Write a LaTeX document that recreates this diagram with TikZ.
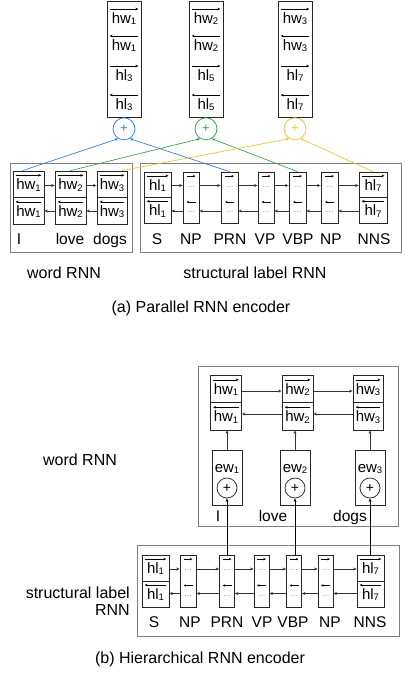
\documentclass[tikz,border=0pt]{standalone}
\usepackage{fontspec}
\setmainfont{Liberation Sans}
\usetikzlibrary{arrows.meta,calc}
\definecolor{cblue}{HTML}{3A80D6}
\definecolor{cgreen}{HTML}{3AA453}
\definecolor{cyellow}{HTML}{E8C63C}
\newcommand\sbs[1]{\raisebox{-1.5pt}{\fontsize{9.5}{9.5}\selectfont #1}}
% #1 cell, #2 name, #3 yoff, #4 text, #5 sub, #6 f/b
\newcommand\rowtxt[6]{%
  \node[ctext] (#2) at ($(#1.center)+(0,#3)$) {#4\sbs{#5}};
  \ifx f#6
    \draw[ov] ($(#1.west|-#2.north)+(3,-3.5)$) -- ($(#1.east|-#2.north)+(-3,-3.5)$);
  \else
    \draw[ov] ($(#1.east|-#2.north)+(-3,-3.5)$) -- ($(#1.west|-#2.north)+(3,-3.5)$);
  \fi}
% #1 name, #2 x, #3 y, #4 width, #5 height, #6 text, #7 sub, #8 quarter
\newcommand\twocell[8]{%
  \node[cellbox, minimum width=#4pt, minimum height=#5pt] (#1) at (#2,#3) {};
  \draw[cellbox] (#1.west) -- (#1.east);
  \rowtxt{#1}{#1t}{-#8}{#6}{#7}{f}
  \rowtxt{#1}{#1b}{#8}{#6}{#7}{b}}
% #1 name, #2 x, #3 y, #4 width, #5 height
\newcommand\dotcell[5]{%
  \node[cellbox, minimum width=#4pt, minimum height=#5pt] (#1) at (#2,#3) {};
  \draw[ovs] ($(#1.north)+(-4.5,4.5)$) -- ($(#1.north)+(4.5,4.5)$);
  \node[dotstxt] at ($(#1.north)+(0,15.5)$) {…};
  \draw[ovs] ($(#1.center)+(4.5,4.5)$) -- ($(#1.center)+(-4.5,4.5)$);
  \node[dotstxt] at ($(#1.center)+(0,15)$) {…};}
\begin{document}
\begin{tikzpicture}[x=1pt,y=-1pt,
  every node/.style={inner sep=0pt},
  cellbox/.style={draw=black!85, line width=0.75pt},
  outerbox/.style={draw=black!50, line width=1pt},
  ctext/.style={font=\fontsize{15}{15}\selectfont, text height=10.5pt, text depth=0pt, inner xsep=1pt},
  ov/.style={line width=0.55pt, -{Stealth[length=3pt,width=2.6pt]}},
  ovs/.style={line width=0.55pt, -{Stealth[length=2.6pt,width=2.4pt]}},
  linkarr/.style={draw=black!80, line width=0.7pt, -{Stealth[length=3.5pt,width=3pt]}},
  labtxt/.style={font=\fontsize{15.5}{15.5}\selectfont, anchor=base},
  captxt/.style={font=\fontsize{16}{16}\selectfont, anchor=base},
  dotstxt/.style={font=\fontsize{8}{8}\selectfont, text=black!45},
  cplus/.style={circle, draw, minimum size=22pt, line width=0.8pt, font=\fontsize{13}{13}\selectfont},
  bplus/.style={circle, draw=black!85, minimum size=20pt, line width=0.75pt, font=\fontsize{14}{14}\selectfont},
  conn/.style={line width=0.7pt, -{Stealth[length=3.5pt,width=3pt]}}
]
\useasboundingbox (0,0) rectangle (415,677);

% ================= (a) =================
\foreach \n/\x/\w/\l in {o1/124/1/3, o2/206/2/5, o3/295/3/7}{
  \node[cellbox, minimum width=34pt, minimum height=116pt] (\n) at (\x,59) {};
  \rowtxt{\n}{\n a}{-41}{hw}{\w}{f}
  \rowtxt{\n}{\n b}{-14}{hw}{\w}{b}
  \rowtxt{\n}{\n c}{16}{hl}{\l}{f}
  \rowtxt{\n}{\n d}{45}{hl}{\l}{b}
}
\node[cplus, draw=cblue, text=cblue, anchor=north] (c1) at (o1.south) {+};
\node[cplus, draw=cgreen, text=cgreen, anchor=north] (c2) at (o2.south) {+};
\node[cplus, draw=cyellow, text=cyellow, anchor=north] (c3) at (o3.south) {+};

\node[outerbox, minimum width=122pt, minimum height=89pt] (wboxa) at (71,207.5) {};
\node[outerbox, minimum width=261pt, minimum height=89pt] (sboxa) at (270.5,207.5) {};

\twocell{wa1}{28.5}{197.5}{31}{53}{hw}{1}{13.25}
\twocell{wa2}{70.5}{197.5}{31}{53}{hw}{2}{13.25}
\twocell{wa3}{112}{197.5}{30}{53}{hw}{3}{13.25}
\twocell{sa1}{157.5}{197.5}{27}{51}{hl}{1}{12.75}
\dotcell{sa2}{191}{197.5}{16}{51}
\dotcell{sa3}{229.5}{197.5}{17}{51}
\dotcell{sa4}{266}{197.5}{16}{51}
\dotcell{sa5}{297.5}{197.5}{17}{51}
\dotcell{sa6}{329.5}{197.5}{17}{51}
\twocell{sa7}{373}{197.5}{28}{51}{hl}{7}{12.75}

\foreach \a/\b in {wa1/wa2, wa2/wa3, sa1/sa2, sa2/sa3, sa3/sa4, sa4/sa5, sa5/sa6, sa6/sa7}{
  \draw[linkarr] ([yshift=12pt]\a.east) -- ([yshift=12pt]\b.west);
  \draw[linkarr] ([yshift=-13.5pt]\b.west) -- ([yshift=-13.5pt]\a.east);
}

\foreach \t/\x [count=\i] in {I/19, love/70, dogs/110, S/157, NP/191, PRN/230, VP/265, VBP/298, NP/331, NNS/374}{
  \node[labtxt] (la\i) at (\x,244) {\t};
}

\draw[conn, cblue] ($(wa1.north)+(-6,0)$) -- (c1.240);
\draw[conn, cblue] (sa3.north) -- (c1.300);
\draw[conn, cgreen] (wa2.north) -- (c2.240);
\draw[conn, cgreen] (sa5.north) -- (c2.300);
\draw[conn, cyellow] ($(wa3.north)+(10,0)$) -- (c3.240);
\draw[conn, cyellow] (sa7.north) -- (c3.300);

\node[captxt] (capw) at (64,278.5) {word RNN};
\node[captxt] (caps) at (255,278.5) {structural label RNN};
\node[captxt] (capa) at (201,312.5) {(a) Parallel RNN encoder};

% ================= (b) =================
\node[outerbox, minimum width=200pt, minimum height=160pt] (wboxb) at (298,446) {};
\node[outerbox, minimum width=262pt, minimum height=91pt] (sboxb) at (268,590.5) {};

\twocell{hb1}{226}{402.5}{31}{55}{hw}{1}{13.75}
\twocell{hb2}{297.5}{402.5}{31}{55}{hw}{2}{13.75}
\twocell{hb3}{368}{402.5}{30}{55}{hw}{3}{13.75}
\foreach \a/\b in {hb1/hb2, hb2/hb3}{
  \draw[linkarr] ([yshift=11.5pt]\a.east) -- ([yshift=11.5pt]\b.west);
  \draw[linkarr] ([yshift=-11.5pt]\b.west) -- ([yshift=-11.5pt]\a.east);
}

\foreach \n/\x/\w in {1/227/1, 2/295/2, 3/370/3}{
  \node[cellbox, minimum width=30pt, minimum height=55pt] (eb\n) at (\x,477.5) {};
  \node[ctext] (ebt\n) at (\x,467) {ew\sbs{\w}};
  \node[bplus] (ec\n) at (\x,488) {+};
  \draw[linkarr] (eb\n.north) -- (eb\n.north |- hb\n.south);
}

\foreach \t/\x [count=\i] in {I/218, love/273, dogs/350}{
  \node[labtxt] (lbw\i) at (\x,521) {\t};
}

\twocell{sb1}{155.5}{581}{27}{52}{hl}{1}{13}
\dotcell{sb2}{188}{581}{16}{52}
\dotcell{sb3}{227}{581}{15}{52}
\dotcell{sb4}{261.5}{581}{15}{52}
\dotcell{sb5}{294}{581}{15}{52}
\dotcell{sb6}{325.5}{581}{15}{52}
\twocell{sb7}{370.5}{581}{27}{52}{hl}{7}{13}
\foreach \a/\b in {sb1/sb2, sb2/sb3, sb3/sb4, sb4/sb5, sb5/sb6, sb6/sb7}{
  \draw[linkarr] ([yshift=12pt]\a.east) -- ([yshift=12pt]\b.west);
  \draw[linkarr] ([yshift=-12.5pt]\b.west) -- ([yshift=-12.5pt]\a.east);
}
\foreach \t/\x [count=\i] in {S/154, NP/190, PRN/227, VP/262, VBP/293, NP/330, NNS/370}{
  \node[labtxt] (lbs\i) at (\x,627) {\t};
}

\draw[conn] (ec1.south |- sb3.north) -- (ec1.south);
\draw[conn] (ec2.south |- sb5.north) -- (ec2.south);
\draw[conn] (ec3.south |- sb7.north) -- (ec3.south);

\node[captxt] (capwb) at (80,465.5) {word RNN};
\node[captxt, anchor=base east] (capsb1) at (130,598) {structural label};
\node[captxt, anchor=base east] (capsb2) at (130,615) {RNN};
\node[captxt] (capb) at (200,663) {(b) Hierarchical RNN encoder};
\end{tikzpicture}
\end{document}
